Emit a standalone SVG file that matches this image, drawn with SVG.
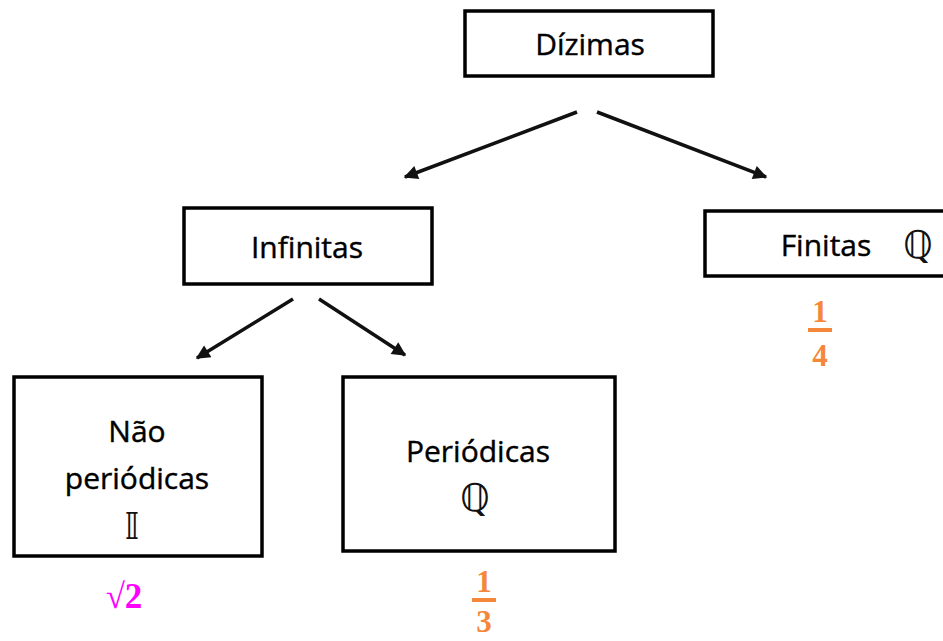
<svg xmlns="http://www.w3.org/2000/svg" width="943" height="641" viewBox="0 0 943 641">
<style>
.box{fill:#fff;stroke:#000;stroke-width:3.5}
.t{font-family:"Open Sans","Noto Sans",sans-serif;font-size:30px;fill:#000;stroke:#000;stroke-width:0.4;text-anchor:middle}
.ds{font-family:"DejaVu Sans","DejaVu Serif",serif;font-size:38px;fill:#111;text-anchor:middle}
.fr{font-family:"Liberation Serif",serif;font-weight:bold;font-size:31px;fill:#F5873A;text-anchor:middle}
.sq{font-family:"Liberation Serif","DejaVu Serif",serif;font-weight:bold;font-size:35px;fill:#FF00FF;text-anchor:middle}
.conn line{stroke:#111;stroke-width:3.5}
</style>
<defs>
<marker id="ah" viewBox="0 0 10 10" refX="9" refY="5" markerWidth="4.5" markerHeight="4" orient="auto" markerUnits="strokeWidth">
<path d="M0,0 L10,5 L0,10 z" fill="#111"/>
</marker>
</defs>
<rect width="943" height="641" fill="#fff"/>
<g id="dizimas">
<rect class="box" x="465" y="11" width="248" height="65"/>
<text class="t" x="590" y="55">Dízimas</text>
</g>
<g id="infinitas">
<rect class="box" x="184" y="208" width="248" height="76"/>
<text class="t" x="307" y="258">Infinitas</text>
</g>
<g id="finitas">
<rect class="box" x="705" y="211" width="245" height="65"/>
<text class="t" x="826" y="256">Finitas</text>
<text class="ds" x="918" y="258">ℚ</text>
<text class="fr" x="820" y="322">1</text>
<rect x="808" y="328" width="24" height="4" fill="#F5873A"/>
<text class="fr" x="820" y="366">4</text>
</g>
<g id="nao-periodicas">
<rect class="box" x="14" y="377" width="248" height="179"/>
<text class="t" x="137" y="442">Não</text>
<text class="t" x="137" y="489">periódicas</text>
<text class="ds" x="132" y="539">𝕀</text>
<text class="sq" x="124" y="608">√2</text>
</g>
<g id="periodicas">
<rect class="box" x="343" y="377" width="272" height="174"/>
<text class="t" x="478" y="462">Periódicas</text>
<text class="ds" x="475" y="511">ℚ</text>
<text class="fr" x="484" y="592">1</text>
<rect x="472" y="598" width="24" height="4" fill="#F5873A"/>
<text class="fr" x="484" y="632">3</text>
</g>
<g class="conn" id="connectors">
<line x1="577" y1="112" x2="405" y2="177" marker-end="url(#ah)"/>
<line x1="597" y1="112" x2="766" y2="177" marker-end="url(#ah)"/>
<line x1="293" y1="299" x2="197" y2="358" marker-end="url(#ah)"/>
<line x1="319" y1="299" x2="405" y2="355" marker-end="url(#ah)"/>
</g>
</svg>
